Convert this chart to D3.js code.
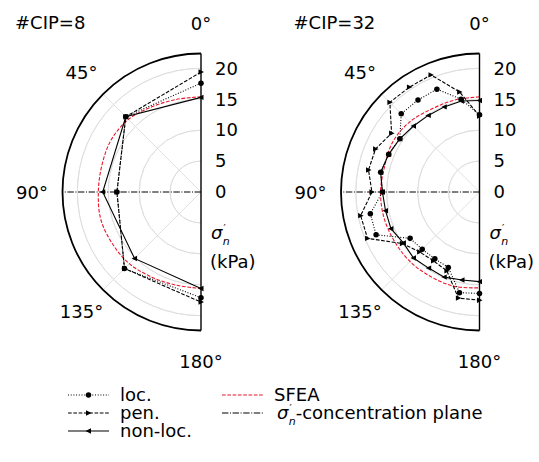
<!DOCTYPE html>
<html>
<head>
<meta charset="utf-8">
<script src="https://cdn.jsdelivr.net/npm/d3@7"></script>
<style>
  body { margin: 0; background: #fff; }
  svg text { font-family: 'DejaVu Sans', sans-serif; font-size: 18px; fill: #000; }
</style>
</head>
<body>
<div class="polar-container"></div>
<script>
// Data - normal stress sigma'_n (kPa) vs angle (deg)
const angles8 = [0, 45, 90, 135, 180];
const loc8 = [17.6, 17.2, 13.6, 17.5, 17.1];
const pen8 = [19.4, 17.2, 13.6, 17.5, 17.8];
const nonloc8 = [15.3, 17.2, 15.9, 15.2, 15.6];

const angles32 = [0, 11.25, 22.5, 33.75, 45, 56.25, 67.5, 78.75, 90,
  101.25, 112.5, 123.75, 135, 146.25, 157.5, 168.75, 180];
const loc32 = [12.5, 15.3, 18.0, 17.9, 17.9, 15.5, 15.9, 16.3, 15.7,
  18.0, 18.1, 13.5, 13.1, 13.0, 13.2, 16.6, 16.4];
const pen32 = [12.3, 16.5, 20.5, 20.4, 20.5, 17.1, 18.2, 18.3, 17.4,
  19.6, 19.6, 15.0, 13.7, 13.4, 13.8, 17.5, 17.5];
const nonloc32 = [14.8, 15.0, 14.9, 14.9, 15.1, 15.5, 15.9, 16.3, 15.7,
  15.5, 15.5, 14.8, 15.1, 14.8, 14.9, 14.5, 14.5];

// SFEA reference curve
const sfeaAngles = [0, 15, 30, 45, 60, 75, 90, 105, 120, 135, 150, 165, 180];
const sfea8 = [15.4, 15.5, 15.9, 16.6, 16.8, 16.6, 16.6, 16.8, 16.6, 16.4, 15.9, 15.6, 15.6];
const sfea32 = [15.4, 15.4, 15.5, 16.0, 16.2, 15.9, 16.0, 16.0, 15.9, 15.9, 15.8, 15.8, 15.5];

const radialTicks = [0, 5, 10, 15, 20];
const angleTicks = [0, 45, 90, 135, 180];
const rMax = 22.4;

// Setup
const svg_width = 539;
const svg_height = 462;
const cy = 192;
const R = 138.5;

const svg = d3.select('.polar-container').append('svg')
  .attr('width', svg_width).attr('height', svg_height);

const rScale = d3.scaleLinear().domain([0, rMax]).range([0, R]);
// 0deg up, turning counter-clockwise to the left
const aScale = d3.scaleLinear().domain([0, 180]).range([0, -Math.PI]);

const styles = {
  loc: { dash: '1,1.7', marker: 'circle' },
  pen: { dash: '3.7,1.6', marker: 'right' },
  nonloc: { dash: null, marker: 'left' }
};

function markerPath(type) {
  if (type === 'right') return 'M-2.5,-2.7L3,0L-2.5,2.7Z';
  if (type === 'left') return 'M2.5,-2.7L-3,0L2.5,2.7Z';
  return d3.symbol(d3.symbolCircle, 24)();
}

function polarXY(a, v) {
  const t = aScale(a);
  return [rScale(v) * Math.sin(t), -rScale(v) * Math.cos(t)];
}

// sigma'_n as one text: italic sigma, prime up, subscript n
function sigmaLabel(text) {
  text.append('tspan').style('font-style', 'italic').text('σ');
  text.append('tspan').attr('dy', -7).attr('dx', 1).style('font-size', '10px').text('′');
  text.append('tspan').attr('dy', 13).attr('dx', -3).style('font-size', '11px')
    .style('font-style', 'italic').text('n');
  return text;
}

function drawPanel(cx, title, angles, series, sfea) {
  const g = svg.append('g').attr('transform', `translate(${cx},${cy})`);

  // grid
  const arc = d3.arc().startAngle(-Math.PI).endAngle(0);
  g.selectAll('.grid-circle').data(radialTicks.filter(d => d > 0)).enter()
    .append('path').attr('class', 'grid-circle')
    .attr('d', d => arc({ innerRadius: rScale(d), outerRadius: rScale(d) }))
    .style('fill', 'none').style('stroke', '#dedede').style('stroke-width', 0.9);
  g.selectAll('.grid-spoke').data([45, 135]).enter()
    .append('line').attr('class', 'grid-spoke')
    .attr('x1', 0).attr('y1', 0)
    .attr('x2', d => polarXY(d, rMax)[0]).attr('y2', d => polarXY(d, rMax)[1])
    .style('stroke', '#dedede').style('stroke-width', 0.9);

  // concentration plane
  g.append('line')
    .attr('x1', 0).attr('y1', 0).attr('x2', -R).attr('y2', 0)
    .style('stroke', '#000').style('stroke-width', 1)
    .style('stroke-dasharray', '6.4,1.6,1,1.6');

  // SFEA
  const sfeaLine = d3.lineRadial().curve(d3.curveCatmullRom)
    .angle((d, i) => aScale(sfeaAngles[i])).radius(d => rScale(d));
  g.append('path').attr('d', sfeaLine(sfea))
    .style('fill', 'none').style('stroke', '#e8182b').style('stroke-width', 1.1)
    .style('stroke-dasharray', '3.7,1.6');

  // models
  const line = d3.lineRadial()
    .angle((d, i) => aScale(angles[i])).radius(d => rScale(d));
  series.forEach(s => {
    const st = styles[s.key];
    g.append('path').attr('d', line(s.values))
      .style('fill', 'none').style('stroke', '#000').style('stroke-width', 1.1)
      .style('stroke-dasharray', st.dash);
    g.selectAll('.m-' + s.key).data(s.values).enter()
      .append('path').attr('class', 'm-' + s.key)
      .attr('transform', (d, i) => `translate(${polarXY(angles[i], d)})`)
      .attr('d', markerPath(st.marker))
      .style('fill', '#000');
  });

  // spines
  g.append('path')
    .attr('d', arc({ innerRadius: R, outerRadius: R }))
    .style('fill', 'none').style('stroke', '#000').style('stroke-width', 1.8);
  g.append('line').attr('x1', 0).attr('y1', -R).attr('x2', 0).attr('y2', R)
    .style('stroke', '#000').style('stroke-width', 1.4);

  // radial axis
  const yScale = d3.scaleLinear().domain([0, rMax]).range([0, -R]);
  const yAxis = d3.axisRight(yScale).tickValues(radialTicks).tickSize(0).tickPadding(14);
  const yAxisDraw = g.append('g').call(yAxis);
  yAxisDraw.select('.domain').remove();
  yAxisDraw.selectAll('text').style('font-size', '18px')
    .style('font-family', "'DejaVu Sans', sans-serif");

  // angle labels
  g.selectAll('.a-label').data(angleTicks).enter()
    .append('text').attr('class', 'a-label')
    .attr('x', d => polarXY(d, 169 / R * rMax)[0])
    .attr('y', d => polarXY(d, 169 / R * rMax)[1])
    .attr('text-anchor', 'middle').attr('dominant-baseline', 'central')
    .text(d => d + '°');

  // sigma label
  g.append('text').attr('x', 10).attr('y', 47).call(sigmaLabel);
  g.append('text').attr('x', 9).attr('y', 76).text('(kPa)');

  // title
  svg.append('text').attr('x', cx - 186).attr('y', 29).text(title);
}

drawPanel(201, '#CIP=8', angles8, [
  { key: 'loc', values: loc8 },
  { key: 'pen', values: pen8 },
  { key: 'nonloc', values: nonloc8 }
], sfea8);

drawPanel(479.5, '#CIP=32', angles32, [
  { key: 'loc', values: loc32 },
  { key: 'pen', values: pen32 },
  { key: 'nonloc', values: nonloc32 }
], sfea32);

// legend
const legend = svg.append('g').attr('class', 'legend');
const legendItems = [
  { x: 68, y: 395, label: 'loc.', dash: styles.loc.dash, marker: 'circle', color: '#000' },
  { x: 68, y: 413, label: 'pen.', dash: styles.pen.dash, marker: 'right', color: '#000' },
  { x: 68, y: 431, label: 'non-loc.', dash: null, marker: 'left', color: '#000' },
  { x: 222, y: 395, label: 'SFEA', dash: '3.7,1.6', marker: null, color: '#e8182b' },
  { x: 222, y: 413, label: null, dash: '6.4,1.6,1,1.6', marker: null, color: '#000' }
];
legendItems.forEach(d => {
  const it = legend.append('g').attr('transform', `translate(${d.x},${d.y})`);
  it.append('line').attr('x1', 0).attr('x2', 41).attr('y1', 0).attr('y2', 0)
    .style('stroke', d.color).style('stroke-width', 1.1).style('stroke-dasharray', d.dash);
  if (d.marker) {
    it.append('path').attr('transform', 'translate(20.5,0)')
      .attr('d', markerPath(d.marker)).style('fill', '#000');
  }
  if (d.label) {
    it.append('text').attr('x', 52).attr('y', 6).text(d.label);
  } else {
    const t = it.append('text').attr('x', 55).attr('y', 6).call(sigmaLabel);
    t.append('tspan').attr('dy', -6).style('font-size', '18px').text('-concentration plane');
  }
});
</script>
</body>
</html>
